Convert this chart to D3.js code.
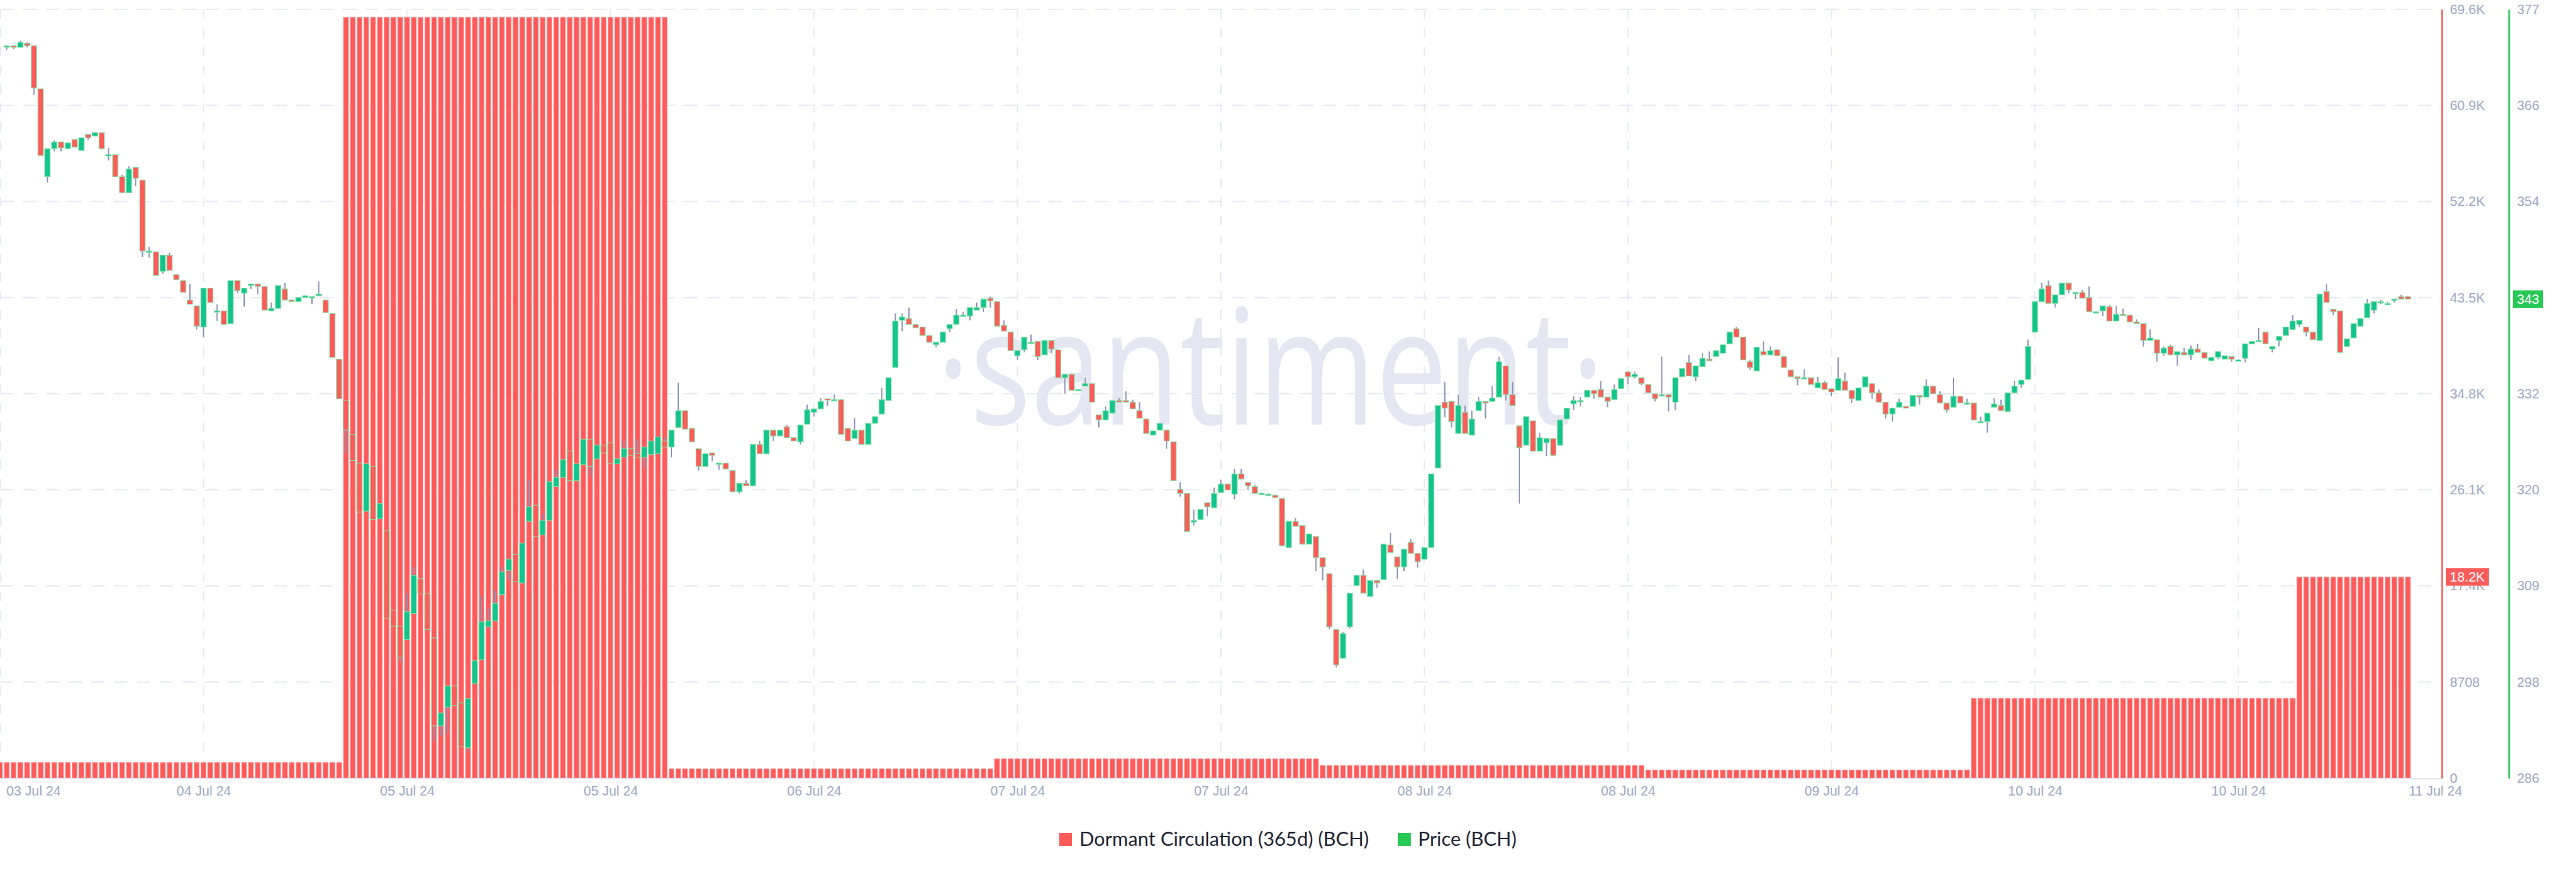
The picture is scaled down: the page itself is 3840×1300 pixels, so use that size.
<!DOCTYPE html>
<html><head><meta charset="utf-8">
<script src="https://cdn.jsdelivr.net/npm/d3@7"></script>
<style>html,body{margin:0;padding:0;background:#fff;} svg{display:block}</style>
</head><body>
<svg id="chart" width="3840" height="1300"></svg>
<script>
// ---------- DATA ----------
const xTickLabels = ["03 Jul 24","04 Jul 24","05 Jul 24","05 Jul 24","06 Jul 24","07 Jul 24","07 Jul 24","08 Jul 24","08 Jul 24","09 Jul 24","10 Jul 24","10 Jul 24","11 Jul 24"];
const xTickSlots = [0,30,60,90,120,150,180,210,240,270,300,330,360];
const dormantTickValues = [0, 8708, 17416, 26124, 34832, 43540, 52248, 60956, 69664];
const dormantTickLabels = ["0","8708","17.4K","26.1K","34.8K","43.5K","52.2K","60.9K","69.6K"];
const priceTickValues = [286, 297.375, 308.75, 320.125, 331.5, 342.875, 354.25, 365.625, 377];
const priceTickLabels = ["286","298","309","320","332","343","354","366","377"];

// Dormant Circulation (365d): one value per day, repeated on every 30-minute slot of that day
const dormantDaily = [1416, 68950, 850, 1760, 1150, 730, 7230, 18228];
const dormantDayStartSlot = [0, 51, 99, 147, 195, 243, 291, 339];
const lastSlot = 355;

// Price (BCH) 30-minute candles, slots 1..355
const priceOpen = [
372.7,372.7,372.5,373.0,372.7,367.6,357.2,360.5,361.3,360.5,
361.6,360.3,362.2,362.0,362.4,359.8,359.8,357.2,355.3,358.3,
356.8,348.4,348.3,346.0,347.9,345.6,344.9,342.6,341.9,339.4,
344.0,341.3,341.3,339.8,344.9,343.4,344.3,344.5,344.2,341.3,
341.6,343.9,342.6,342.4,342.9,343.0,343.1,342.6,341.0,335.6,
330.7,326.7,323.3,317.6,322.9,316.7,315.3,305.9,304.0,302.4,
305.5,309.6,307.8,302.6,292.2,294.4,296.9,294.9,289.6,297.2,
300.0,303.9,304.6,307.7,310.6,312.5,309.1,316.4,318.3,314.8,
316.5,320.5,321.6,324.7,321.2,323.1,326.1,323.8,325.4,325.7,
323.2,324.0,325.0,324.4,324.0,324.3,324.4,325.9,325.2,327.5,
329.5,327.4,325.0,322.9,324.5,323.2,323.3,322.4,319.9,320.9,
320.6,325.5,324.4,327.2,326.5,327.6,326.3,325.8,327.9,329.3,
329.7,330.9,330.8,330.8,327.4,326.2,327.2,325.5,328.0,329.1,
330.7,334.6,340.2,340.4,339.7,339.4,338.4,337.3,337.6,339.2,
339.7,340.7,340.7,341.4,341.7,342.8,342.4,339.6,338.8,336.0,
336.7,337.6,337.7,336.1,337.8,336.7,333.4,333.8,331.9,332.4,
332.7,329.0,328.4,329.2,330.7,330.7,330.5,329.5,328.5,326.6,
327.2,327.2,325.8,320.2,319.7,316.3,316.6,318.6,318.0,319.8,
320.8,319.6,322.0,321.0,320.5,319.7,319.6,319.5,319.1,313.3,
316.4,315.9,313.7,314.6,312.1,310.2,303.6,300.2,303.9,308.8,
310.0,307.5,309.4,309.5,313.6,312.2,311.0,313.9,312.6,311.9,
313.3,322.7,330.5,330.6,326.8,329.3,326.6,329.5,330.6,330.6,
331.1,334.8,331.4,327.7,325.4,328.3,324.7,325.7,326.2,325.4,
328.5,330.3,330.7,331.1,331.9,332.0,331.1,330.8,332.1,334.1,
333.5,333.4,332.6,331.5,331.4,331.4,330.5,333.5,335.2,333.5,
334.7,335.6,335.9,336.3,337.4,339.2,338.2,335.3,334.2,336.5,
336.1,336.7,335.9,334.3,333.5,333.4,333.4,332.2,332.8,332.1,
331.9,333.0,331.9,330.7,332.3,332.7,331.6,330.5,329.1,329.9,
330.0,330.0,331.3,331.1,332.4,331.4,330.4,329.9,331.2,330.4,
330.4,328.2,328.2,329.9,330.1,329.4,331.6,332.6,333.2,338.8,
342.4,344.3,342.2,343.2,344.6,343.5,343.5,342.9,341.2,341.3,
341.8,340.1,340.9,340.8,340.0,339.8,337.8,337.9,336.3,337.1,
336.1,336.4,336.1,336.8,336.4,335.4,335.8,335.6,335.9,335.5,
335.7,337.4,337.7,338.8,336.8,337.8,338.4,339.1,339.7,339.4,
338.8,337.8,343.6,341.5,341.3,337.1,338.1,339.5,340.5,341.4,
342.3,342.2,342.6,343.0,343.0];
const priceHigh = [
372.7,372.7,373.3,373.1,372.7,367.6,360.5,361.5,361.3,361.2,
361.6,361.8,362.2,362.5,362.4,360.6,359.8,357.4,358.4,358.3,
356.8,348.9,348.3,347.9,348.2,345.6,344.9,344.5,341.9,344.0,
344.0,342.1,341.3,344.9,344.9,344.0,344.5,344.5,344.2,342.3,
344.3,344.6,342.6,342.9,343.1,343.0,344.8,342.6,341.0,335.6,
330.7,326.7,323.3,323.2,322.9,318.5,315.3,305.9,304.0,307.9,
311.0,309.6,307.8,302.6,293.7,296.9,296.9,294.9,295.4,299.9,
307.6,306.1,308.2,311.0,311.9,312.5,313.8,321.3,318.3,317.3,
321.1,322.5,323.7,324.7,323.2,326.1,326.1,325.4,325.4,325.7,
323.8,325.9,325.1,326.1,325.2,325.9,326.4,326.4,327.2,332.8,
329.5,327.4,325.0,324.4,324.5,323.3,323.3,322.4,320.9,321.3,
325.5,325.9,327.2,327.2,327.2,327.8,326.3,327.8,330.2,329.7,
331.0,330.9,331.4,330.8,327.4,328.6,327.2,328.0,328.8,332.2,
333.4,341.0,341.0,341.7,339.7,339.4,338.4,337.6,338.8,339.7,
341.5,341.2,341.7,342.3,342.7,343.0,342.4,340.2,338.8,336.6,
338.2,338.5,337.7,337.8,337.8,336.7,333.8,333.8,332.0,333.4,
332.7,329.0,330.0,330.7,331.0,331.8,330.8,330.5,328.5,327.1,
328.0,327.2,325.8,321.0,319.7,317.8,317.8,318.6,320.4,321.3,
320.8,322.6,322.6,321.0,320.7,319.8,319.7,319.5,319.1,316.4,
316.8,315.9,314.9,314.6,312.1,310.2,303.6,303.3,307.9,310.0,
310.7,309.4,309.4,313.7,315.0,312.2,313.1,314.3,312.6,313.3,
322.0,330.1,332.9,330.6,331.4,330.1,329.5,331.1,330.6,332.4,
335.9,334.8,332.9,327.7,328.8,328.3,326.9,326.2,326.2,328.4,
329.8,331.2,331.1,331.9,331.9,333.0,331.1,332.6,333.3,334.1,
334.1,333.4,332.6,331.5,335.9,331.4,333.4,334.5,336.1,334.8,
336.3,336.5,336.6,337.3,338.8,339.4,338.2,335.5,337.0,337.7,
337.1,336.7,335.9,334.3,333.5,334.4,333.4,333.5,333.0,332.1,
335.8,334.0,331.9,332.2,333.5,332.7,332.0,330.5,329.8,330.9,
330.0,331.3,331.3,333.2,332.4,331.8,330.4,333.4,331.2,330.9,
330.4,328.8,329.2,331.0,330.8,331.6,333.0,333.1,337.9,342.4,
344.6,344.9,343.2,344.6,344.6,343.5,343.8,344.2,341.2,341.9,
342.0,341.9,341.6,340.8,340.3,339.8,339.1,337.9,337.1,337.3,
336.5,336.9,337.2,337.4,336.4,335.8,336.5,336.0,335.9,335.6,
337.4,337.7,339.3,338.8,337.1,338.3,339.4,340.8,340.2,339.4,
338.8,343.3,344.5,341.5,341.3,338.0,339.8,340.4,342.7,342.4,
342.6,342.4,342.7,343.2,343.1];
const priceLow = [
372.2,372.3,372.5,372.5,366.9,359.7,356.5,360.2,360.2,360.5,
360.7,360.3,361.5,362.0,360.5,359.1,357.2,355.3,355.3,356.1,
347.7,347.6,345.5,345.7,346.1,345.0,343.5,342.1,339.1,338.2,
342.3,340.1,339.7,339.8,343.4,341.8,343.9,343.3,341.4,341.3,
341.6,342.6,342.4,342.4,342.9,342.1,343.1,341.1,335.8,330.9,
324.5,323.6,317.5,317.6,316.6,316.7,304.9,304.0,299.8,302.4,
305.5,307.8,303.6,290.4,291.0,291.3,294.6,289.7,289.1,297.2,
300.0,303.9,304.6,307.7,309.4,309.3,309.1,316.4,314.6,314.8,
316.5,320.5,321.6,321.2,321.2,323.1,321.8,323.8,324.5,323.2,
323.2,324.0,324.2,324.0,322.7,324.3,324.4,325.2,324.0,327.5,
327.3,325.8,322.4,322.9,323.5,322.5,322.6,319.9,319.7,320.6,
320.6,324.4,324.4,325.9,326.5,326.3,325.9,325.5,327.9,328.8,
329.7,330.1,330.8,326.7,325.9,326.2,325.5,325.5,328.0,329.1,
330.7,334.6,338.9,339.7,339.3,338.4,337.6,337.0,337.6,338.8,
339.7,340.7,340.2,341.4,341.2,341.7,339.5,338.9,336.6,335.5,
336.4,337.6,335.5,336.1,336.3,333.4,331.5,331.9,331.9,332.4,
330.5,327.5,328.4,329.2,330.5,330.5,329.7,328.6,326.8,326.6,
327.2,325.0,321.2,319.3,315.2,315.9,316.6,317.0,318.0,319.8,
320.1,319.0,321.4,320.1,319.7,319.6,319.4,319.2,313.5,313.3,
315.8,313.7,313.7,310.5,309.4,303.6,299.1,300.2,303.7,308.8,
307.9,307.5,308.5,309.5,312.7,309.6,310.5,312.6,310.9,311.9,
313.3,322.7,328.7,327.5,326.8,326.8,326.6,329.5,328.6,330.6,
331.1,330.7,330.1,318.5,325.4,324.7,324.7,324.1,324.1,325.4,
328.5,329.6,330.0,331.1,330.9,331.1,329.9,330.8,332.1,332.6,
333.3,332.5,331.6,330.6,331.2,329.4,329.6,333.5,333.6,333.0,
334.7,335.4,335.9,336.3,337.4,338.2,335.5,334.3,334.2,336.1,
336.1,336.0,334.6,333.5,332.5,333.4,332.6,332.2,332.0,331.2,
331.9,331.9,330.4,330.7,332.3,330.9,330.5,328.6,328.2,329.9,
329.8,330.0,330.2,331.1,331.5,330.4,329.3,329.9,330.4,330.2,
328.4,328.2,326.9,329.9,329.5,329.4,331.6,332.2,333.2,338.8,
342.4,342.2,341.7,343.2,343.4,342.7,342.8,341.2,341.1,340.7,
340.1,340.1,340.8,340.0,339.8,337.1,337.8,335.3,336.0,336.1,
334.8,336.1,335.5,336.4,335.7,335.4,335.6,335.6,335.3,335.4,
335.2,337.4,337.7,337.4,336.4,337.1,338.4,339.1,339.4,338.3,
337.9,337.8,342.3,340.8,336.4,337.1,338.1,339.5,340.5,341.0,
342.1,342.0,342.3,342.7,342.7];
const priceClose = [
372.7,372.5,373.1,372.7,367.7,359.7,360.5,361.3,360.6,361.2,
360.7,361.8,361.8,362.4,360.5,359.8,357.2,355.3,358.1,357.0,
348.4,348.4,345.5,347.9,346.1,345.0,343.5,342.1,339.5,344.0,
342.3,341.3,339.7,344.9,343.7,344.0,344.5,344.2,341.4,341.6,
344.3,342.6,342.4,342.9,343.1,343.0,343.3,341.1,335.8,330.9,
327.2,323.6,317.5,323.2,316.6,318.5,304.9,304.0,300.3,305.7,
310.0,307.8,303.6,292.2,293.7,296.9,294.6,289.7,295.4,299.9,
304.5,304.6,306.7,310.4,311.9,309.3,313.8,318.1,314.6,316.5,
321.1,321.6,323.7,321.2,323.2,326.1,322.9,325.4,324.5,323.2,
323.8,325.0,324.2,324.0,325.2,325.9,326.4,325.2,327.2,329.5,
327.3,325.8,322.9,324.4,324.2,323.3,322.6,319.9,320.9,320.6,
325.5,324.4,327.2,326.5,327.2,326.3,325.9,327.8,329.6,329.7,
330.6,330.8,330.8,326.7,325.9,327.2,325.5,328.0,328.8,330.8,
333.4,340.1,340.6,339.7,339.3,338.4,337.6,337.6,338.8,339.7,
340.8,340.8,341.7,341.7,342.7,342.5,339.5,338.9,336.6,336.6,
338.2,337.6,335.9,337.8,336.8,333.4,333.8,331.9,332.0,332.7,
330.5,328.4,329.5,330.7,330.5,330.5,329.7,328.6,326.8,327.1,
328.0,325.9,321.2,319.7,315.2,316.5,317.8,318.1,319.7,320.8,
320.1,322.0,321.4,320.6,319.7,319.7,319.6,319.2,313.5,316.4,
315.8,313.7,314.9,312.1,311.0,303.9,299.4,303.1,307.9,310.0,
307.9,309.4,309.1,313.7,312.7,311.0,313.1,312.6,311.6,313.3,
322.0,330.1,329.8,328.2,330.1,326.8,328.5,330.6,330.4,331.0,
335.3,331.4,330.1,325.1,328.8,324.7,326.3,326.2,324.2,328.4,
329.8,330.7,330.7,331.9,331.5,331.1,330.6,332.0,333.3,333.5,
333.8,332.7,331.6,330.9,331.4,331.1,333.4,334.5,333.6,334.8,
335.7,335.4,336.6,337.3,338.8,338.2,335.5,334.6,337.0,336.1,
336.6,336.0,334.6,333.5,333.3,333.4,332.6,332.8,332.0,331.7,
333.3,331.9,330.9,332.2,333.5,331.6,330.5,329.1,329.8,330.5,
329.8,331.3,331.1,332.4,331.5,330.4,329.6,331.2,330.4,330.4,
328.4,328.2,329.2,330.3,329.5,331.6,332.4,333.1,337.1,342.4,
343.9,342.2,343.2,344.6,343.8,343.5,342.8,341.2,341.2,341.9,
340.1,340.9,340.8,340.0,339.8,337.8,338.1,336.3,336.9,336.1,
336.5,336.1,336.8,336.4,335.7,335.8,336.5,336.0,335.6,335.5,
337.4,337.7,337.8,337.4,337.1,338.3,339.4,340.1,340.2,338.8,
337.9,343.3,342.3,341.2,336.4,338.0,339.8,340.4,342.2,342.4,
342.4,342.2,342.7,342.7,342.7];

const legendItems = [
  {label: "Dormant Circulation (365d) (BCH)", color: "#ff5b5b"},
  {label: "Price (BCH)", color: "#26c953"}
];
const watermarkText = "\u00B7santiment\u00B7";

// ---------- CHART ----------
const svg = d3.select("#chart");
const plot = {left: 0, right: 3640, top: 14, bottom: 1160};
const x = d3.scaleLinear().domain([0, 360]).range([plot.left, plot.right]);
const yD = d3.scaleLinear().domain([0, 69664]).range([plot.bottom, plot.top]);
const yP = d3.scaleLinear().domain([286, 377]).range([plot.bottom, plot.top]);

const gridColor = "#e7eaf3";
const tickColor = "#9ea8c3";
const axisFont = "'Liberation Sans', Arial, sans-serif";

svg.append("rect").attr("width", 3840).attr("height", 1300).attr("fill", "#fff");

svg.append("defs").append("clipPath").attr("id", "plotclip")
  .append("rect").attr("x", plot.left).attr("y", 0).attr("width", plot.right - plot.left).attr("height", plot.bottom + 2);

// watermark
svg.append("text")
  .attr("x", 1396).attr("y", 633)
  .attr("textLength", 996).attr("lengthAdjust", "spacingAndGlyphs")
  .attr("font-family", "'Open Sans', sans-serif").attr("font-size", 240).attr("font-weight", 400)
  .attr("fill", "#e4e7f1")
  .text(watermarkText);

// horizontal grid
svg.append("g").selectAll("line").data(dormantTickValues.slice(1)).join("line")
  .attr("x1", plot.left).attr("x2", plot.right)
  .attr("y1", d => yD(d)).attr("y2", d => yD(d))
  .attr("stroke", gridColor).attr("stroke-width", 2).attr("stroke-dasharray", "20,14");

// vertical grid
svg.append("g").selectAll("line").data(xTickSlots.slice(0, -1)).join("line")
  .attr("x1", d => x(d) + (d === 0 ? 1 : 0)).attr("x2", d => x(d) + (d === 0 ? 1 : 0))
  .attr("y1", plot.top).attr("y2", plot.bottom)
  .attr("stroke", gridColor).attr("stroke-width", 2).attr("stroke-dasharray", "14,14");

// dormant bars
const slots = d3.range(0, lastSlot + 1);
const dayIndexOf = s => d3.bisectRight(dormantDayStartSlot, s) - 1;
const barW = 7.4;
svg.append("g").attr("clip-path", "url(#plotclip)")
  .selectAll("rect").data(slots).join("rect")
  .attr("x", s => x(s) - barW / 2)
  .attr("y", s => yD(dormantDaily[dayIndexOf(s)]))
  .attr("width", barW)
  .attr("height", s => yD(0) - yD(dormantDaily[dayIndexOf(s)]))
  .attr("fill", "#ff5b5b").attr("stroke", "#ff9c9c").attr("stroke-width", 0.8);

// baseline
svg.append("line").attr("x1", plot.left).attr("x2", plot.right)
  .attr("y1", plot.bottom + 1).attr("y2", plot.bottom + 1)
  .attr("stroke", "#e3e6f0").attr("stroke-width", 2);

// candles
const candles = priceClose.map((c, i) => ({slot: i + 1, o: priceOpen[i], h: priceHigh[i], l: priceLow[i], c}));
const cg = svg.append("g").attr("clip-path", "url(#plotclip)");
cg.selectAll("line").data(candles).join("line")
  .attr("x1", d => x(d.slot)).attr("x2", d => x(d.slot))
  .attr("y1", d => yP(d.h)).attr("y2", d => yP(d.l))
  .attr("stroke", "#8b93b7").attr("stroke-width", 2);
const bodyW = 8;
cg.selectAll("rect").data(candles).join("rect")
  .attr("x", d => x(d.slot) - bodyW / 2)
  .attr("y", d => Math.min(yP(d.o), yP(d.c)))
  .attr("width", bodyW)
  .attr("height", d => Math.max(2, Math.abs(yP(d.o) - yP(d.c))))
  .attr("fill", d => d.c >= d.o ? "#14c38e" : "#ff5b5b")
  .attr("stroke", "#86e3a4").attr("stroke-width", 1);

// x axis
const xAxis = d3.axisBottom(x).tickValues(xTickSlots).tickFormat((d, i) => xTickLabels[i]).tickSize(0).tickPadding(0);
const gx = svg.append("g").attr("transform", `translate(0,${plot.bottom})`).call(xAxis);
gx.select(".domain").remove();
gx.selectAll("text").attr("font-family", axisFont).attr("font-size", 20).attr("fill", tickColor)
  .attr("dy", 0).attr("y", 26)
  .attr("text-anchor", (d, i) => i === 0 ? "start" : "middle")
  .attr("x", (d, i) => i === 0 ? 9 : (i === xTickSlots.length - 1 ? -10 : 0));

// dormant axis (right, red)
const yDAxis = d3.axisRight(yD).tickValues(dormantTickValues).tickFormat((d, i) => dormantTickLabels[i]).tickSize(0).tickSizeOuter(0).tickPadding(12);
const gyd = svg.append("g").attr("transform", `translate(${plot.right},0)`).call(yDAxis);
gyd.select(".domain").attr("stroke", "#ff5b5b").attr("stroke-width", 2.5);
gyd.selectAll("text").attr("font-family", axisFont).attr("font-size", 20).attr("fill", tickColor);

// price axis (right, green)
const yPAxis = d3.axisRight(yP).tickValues(priceTickValues).tickFormat((d, i) => priceTickLabels[i]).tickSize(0).tickSizeOuter(0).tickPadding(12);
const gyp = svg.append("g").attr("transform", `translate(${plot.right + 100},0)`).call(yPAxis);
gyp.select(".domain").attr("stroke", "#26c953").attr("stroke-width", 2.5);
gyp.selectAll("text").attr("font-family", axisFont).attr("font-size", 20).attr("fill", tickColor);

// last value badges
const lastDormant = dormantDaily[dormantDaily.length - 1];
const lastPrice = priceClose[priceClose.length - 1];
function badge(xLeft, yc, w, color, label) {
  const g = svg.append("g");
  g.append("rect").attr("x", xLeft).attr("y", yc - 13).attr("width", w).attr("height", 26).attr("fill", color);
  g.append("text").attr("x", xLeft + w / 2).attr("y", yc).attr("dy", "0.36em")
    .attr("text-anchor", "middle").attr("font-family", axisFont).attr("font-size", 20).attr("fill", "#fff").text(label);
}
badge(plot.right + 6, yD(lastDormant), 64, "#ff5b5b", d3.format(".3s")(lastDormant).replace("k", "K"));
badge(plot.right + 106, yP(lastPrice), 45, "#26c953", d3.format(".0f")(lastPrice));

// legend
const legendFont = "'Lato', 'Liberation Sans', sans-serif";
const lg = svg.append("g");
const legendX = [1579, 2084];
legendItems.forEach((it, i) => {
  lg.append("rect").attr("x", legendX[i]).attr("y", 1242).attr("width", 19).attr("height", 19).attr("fill", it.color);
  lg.append("text").attr("x", legendX[i] + 30).attr("y", 1251).attr("dy", "0.35em")
    .attr("font-family", legendFont).attr("font-size", 29).attr("fill", "#1d2233").text(it.label);
});
</script>
</body></html>
